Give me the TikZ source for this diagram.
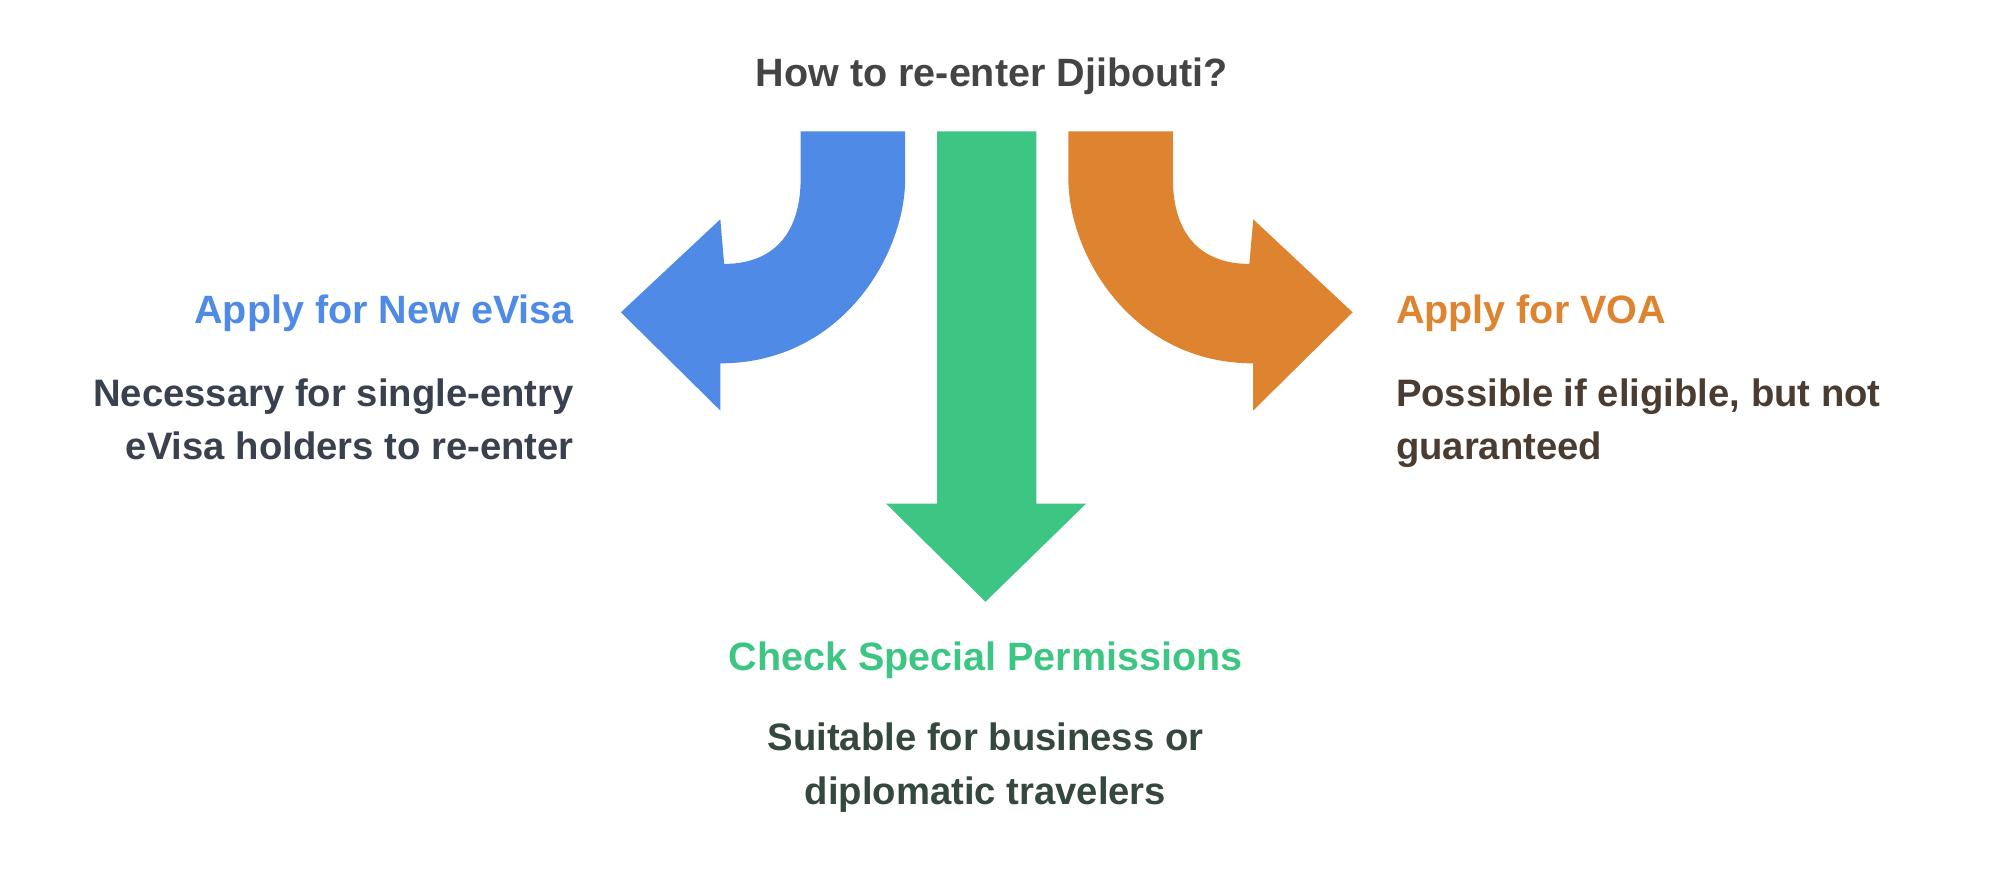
\documentclass[tikz,border=0pt]{standalone}
\usepackage{fontspec}
\setmainfont{Liberation Sans}
\definecolor{cblue}{HTML}{4F8AE6}
\definecolor{cgreen}{HTML}{3DC583}
\definecolor{corange}{HTML}{DE8431}
\definecolor{ctitle}{HTML}{444444}
\definecolor{cdl}{HTML}{39414F}
\definecolor{cdr}{HTML}{4A3C30}
\definecolor{cdg}{HTML}{34483E}
\begin{document}
\begin{tikzpicture}[x=0.5pt,y=-0.5pt,
  head/.style={font=\fontsize{15.5}{21}\selectfont\bfseries},
  desc/.style={font=\fontsize{15}{21}\selectfont\bfseries}]
\useasboundingbox (0,0) rectangle (1568,696);
\node[head,text=ctitle] (title) at (778,60) {How to re-enter Djibouti?};
\fill[cblue] (628,103) -- (628,140) .. controls (628,185) and (605,207) .. (568,207) -- (565,172) -- (487,245) -- (565,322) -- (565,285) .. controls (660,285) and (710,200) .. (710,140) -- (710,103) -- cycle;
\fill[corange] (920,103) -- (920,140) .. controls (920,185) and (943,207) .. (980,207) -- (983,172) -- (1061,245) -- (983,322) -- (983,285) .. controls (888,285) and (838,200) .. (838,140) -- (838,103) -- cycle;
\fill[cgreen] (735,103) -- (735,395) -- (695,395) -- (773,472) -- (852,395) -- (813,395) -- (813,103) -- cycle;
\node[head,text=cblue,anchor=east] (l1) at (457,246) {Apply for New eVisa};
\node[desc,text=cdl,anchor=north east,align=right] (l2) at (457,290) {Necessary for single-entry\\eVisa holders to re-enter};
\node[head,text=corange,anchor=west] (r1) at (1088,246) {Apply for VOA};
\node[desc,text=cdr,anchor=north west,align=left] (r2) at (1088,290) {Possible if eligible, but not\\guaranteed};
\node[head,text=cgreen] (g1) at (773,518) {Check Special Permissions};
\node[desc,text=cdg,anchor=north,align=center] (g2) at (773,560) {Suitable for business or\\diplomatic travelers};
\end{tikzpicture}
\end{document}
